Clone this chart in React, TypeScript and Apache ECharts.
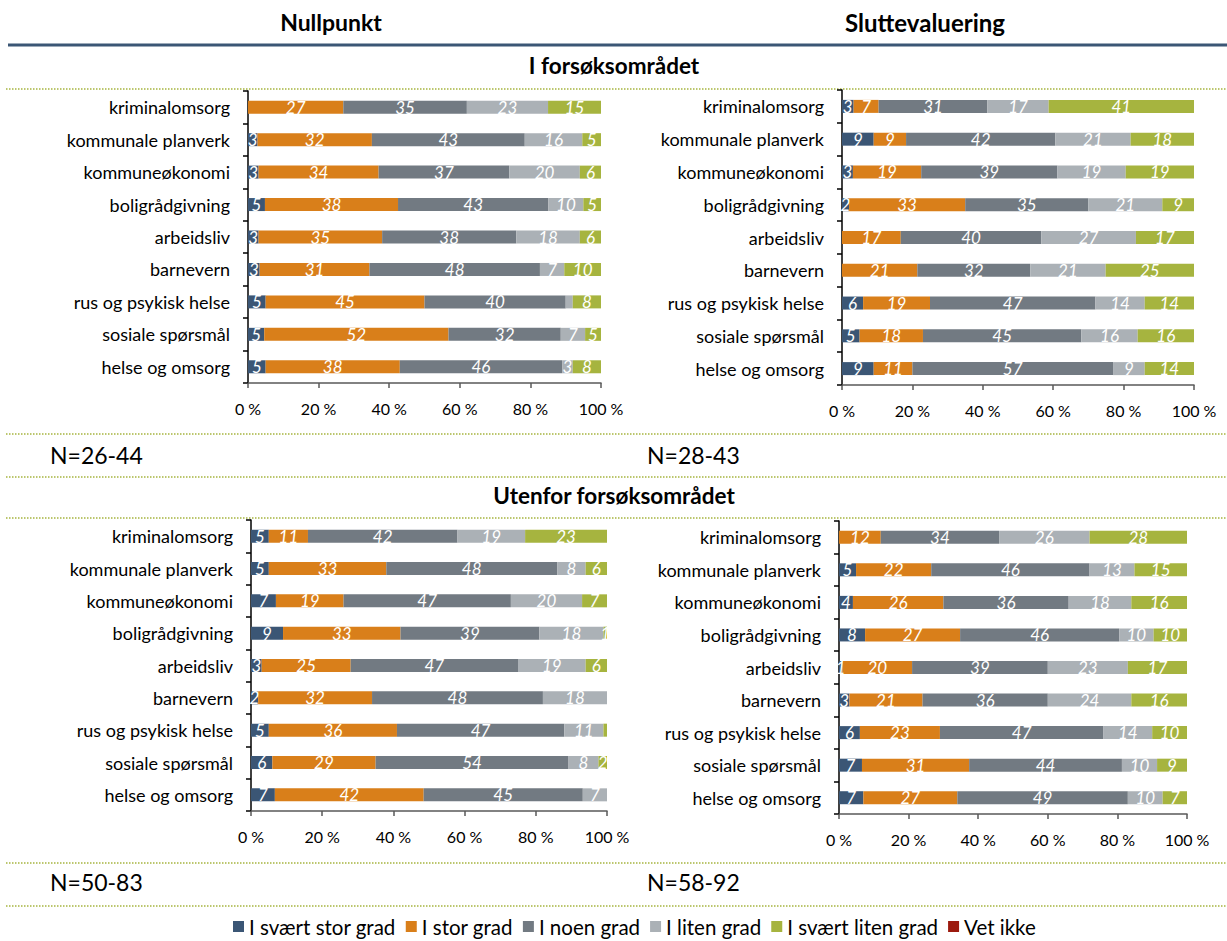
import React, { useEffect, useRef } from "react";
import * as echarts from "echarts";

// ---------- DATA ----------
const categories = [
  "kriminalomsorg",
  "kommunale planverk",
  "kommuneøkonomi",
  "boligrådgivning",
  "arbeidsliv",
  "barnevern",
  "rus og psykisk helse",
  "sosiale spørsmål",
  "helse og omsorg",
];

const seriesNames = [
  "I svært stor grad",
  "I stor grad",
  "I noen grad",
  "I liten grad",
  "I svært liten grad",
  "Vet ikke",
];

const xTickValues = [0, 20, 40, 60, 80, 100];

// Nullpunkt – I forsøksområdet (shares in %, labels shown rounded)
const tlSvaertStor = [0, 2.7, 3, 4.8, 3, 3.3, 5, 4.6, 5];
const tlStor = [27, 32.4, 34, 37.7, 35, 31.1, 45, 52.2, 38];
const tlNoen = [35, 43.3, 37, 42.6, 38, 48.3, 40, 31.8, 46];
const tlLiten = [23, 16.3, 20, 9.9, 18, 6.9, 2, 6.9, 3];
const tlSvaertLiten = [15, 5.3, 6, 5, 6, 10.4, 8, 4.5, 8];
const tlVetIkke = [0, 0, 0, 0, 0, 0, 0, 0, 0];

// Sluttevaluering – I forsøksområdet
const trSvaertStor = [3.3, 9, 3.1, 2, 0, 0, 6, 5, 9];
const trStor = [7.1, 9.2, 19.4, 33, 16.7, 21.4, 19, 18, 11];
const trNoen = [30.9, 42.4, 38.7, 35, 39.9, 32.1, 47, 45, 57];
const trLiten = [17.4, 21.4, 19.4, 21, 26.9, 21.4, 14, 16, 9];
const trSvaertLiten = [41.3, 18, 19.4, 9, 16.5, 25.1, 14, 16, 14];
const trVetIkke = [0, 0, 0, 0, 0, 0, 0, 0, 0];

// Nullpunkt – Utenfor forsøksområdet
const blSvaertStor = [5, 5, 7, 9, 3, 2, 5, 6, 6.7];
const blStor = [11, 33, 19, 33, 25, 32, 36, 29, 41.8];
const blNoen = [42, 48, 47, 39, 47, 48, 47, 54.2, 44.7];
const blLiten = [19, 8, 20, 18, 19, 18, 11, 8.4, 6.8];
const blSvaertLiten = [23, 6, 7, 1, 6, 0, 1, 2.4, 0];
const blVetIkke = [0, 0, 0, 0, 0, 0, 0, 0, 0];

// Sluttevaluering – Utenfor forsøksområdet
const brSvaertStor = [0, 4.9, 4, 7.5, 1, 3, 6, 6.6, 7];
const brStor = [12, 21.6, 26, 27.3, 20, 21, 23, 30.8, 27];
const brNoen = [34, 45.5, 36, 45.7, 39, 36, 47, 43.9, 49];
const brLiten = [26, 12.9, 18, 9.9, 23, 24, 14, 10.1, 10];
const brSvaertLiten = [28, 15.1, 16, 9.6, 17, 16, 10, 8.6, 7];
const brVetIkke = [0, 0, 0, 0, 0, 0, 0, 0, 0];

// labels that are not printed in the original [seriesIndex, categoryIndex]
const tlHiddenLabels = [[3, 6]];
const blHiddenLabels = [[4, 6]];

const columnTitles = ["Nullpunkt", "Sluttevaluering"];
const rowTitles = ["I forsøksområdet", "Utenfor forsøksområdet"];
const nTexts = ["N=26-44", "N=28-43", "N=50-83", "N=58-92"];

// ---------- STYLE ----------
const colors = ["#3B5675", "#D97F1A", "#727A82", "#ABB1B6", "#A6B43F", "#9C1A0E"];
const FONT = "Lato, 'Noto Sans', sans-serif";
const OLIVE = "#A6B43F";

const panelData = [
  { data: [tlSvaertStor, tlStor, tlNoen, tlLiten, tlSvaertLiten, tlVetIkke], hidden: tlHiddenLabels },
  { data: [trSvaertStor, trStor, trNoen, trLiten, trSvaertLiten, trVetIkke], hidden: [] as number[][] },
  { data: [blSvaertStor, blStor, blNoen, blLiten, blSvaertLiten, blVetIkke], hidden: blHiddenLabels },
  { data: [brSvaertStor, brStor, brNoen, brLiten, brSvaertLiten, brVetIkke], hidden: [] as number[][] },
];

const grids = [
  { left: 248, top: 91, width: 353, height: 292 },
  { left: 842, top: 90, width: 352, height: 295 },
  { left: 251, top: 520, width: 356, height: 291 },
  { left: 839, top: 521, width: 348, height: 293 },
];

function buildOption() {
  const xAxis: any[] = [];
  const yAxis: any[] = [];
  const series: any[] = [];
  grids.forEach((_, gi) => {
    xAxis.push({
      type: "value",
      gridIndex: gi,
      min: xTickValues[0],
      max: xTickValues[xTickValues.length - 1],
      interval: xTickValues[1] - xTickValues[0],
      axisLine: { show: true, lineStyle: { color: "#595959", width: 1.5 } },
      axisTick: { show: true, length: 5, lineStyle: { color: "#595959", width: 1.5 } },
      splitLine: { show: false },
      axisLabel: {
        formatter: "{value} %",
        fontSize: 16,
        fontFamily: FONT,
        color: "#000",
        margin: 17,
      },
    });
    yAxis.push({
      type: "category",
      gridIndex: gi,
      data: categories,
      inverse: true,
      axisLine: { show: true, lineStyle: { color: "#000", width: 1.5 } },
      axisTick: { show: true, length: 5, lineStyle: { color: "#000", width: 1.5 } },
      axisLabel: {
        fontSize: 18,
        fontFamily: FONT,
        color: "#000",
        margin: 18,
      },
    });
    const p = panelData[gi];
    p.data.forEach((arr, si) => {
      series.push({
        type: "bar",
        name: seriesNames[si],
        xAxisIndex: gi,
        yAxisIndex: gi,
        stack: "s" + gi,
        barWidth: 13,
        itemStyle: { color: colors[si] },
        label: {
          show: true,
          position: "inside",
          color: "#fff",
          fontStyle: "italic",
          fontSize: 17,
          fontFamily: FONT,
          formatter: (q: any) => (q.value === 0 ? "" : String(Math.round(q.value))),
        },
        data: arr.map((v, ci) =>
          p.hidden.some((h) => h[0] === si && h[1] === ci)
            ? { value: v, label: { show: false } }
            : v
        ),
      });
    });
  });

  const dotted = (y: number) => ({
    type: "line",
    shape: { x1: 6, y1: y, x2: 1227, y2: y },
    style: { stroke: OLIVE, lineWidth: 1.5, lineDash: [1.5, 1.5] },
    silent: true,
  });
  const txt = (text: string, x: number, y: number, size: number, bold: boolean, align = "center") => ({
    type: "text",
    x,
    y,
    style: {
      text,
      fill: "#000",
      font: `${bold ? "bold " : ""}${size}px ${FONT}`,
      fontSize: size,
      fontWeight: bold ? "bold" : "normal",
      fontFamily: FONT,
      align,
      verticalAlign: "middle",
      textAlign: align,
      textVerticalAlign: "middle",
    },
    silent: true,
  });

  const graphic = [
    txt(columnTitles[0], 331, 22, 23, true),
    txt(columnTitles[1], 925, 22, 24, true),
    {
      type: "line",
      shape: { x1: 8, y1: 45, x2: 1227, y2: 45 },
      style: { stroke: "#3B5675", lineWidth: 3 },
      silent: true,
    },
    txt(rowTitles[0], 614, 65, 22.5, true),
    dotted(89),
    dotted(434),
    txt(nTexts[0], 50, 455, 23, false, "left"),
    txt(nTexts[1], 647, 455, 23, false, "left"),
    dotted(477),
    txt(rowTitles[1], 614, 495, 22.5, true),
    dotted(518),
    dotted(863),
    txt(nTexts[2], 50, 882, 23, false, "left"),
    txt(nTexts[3], 647, 882, 23, false, "left"),
    dotted(906),
  ];

  return {
    animation: false,
    grid: grids,
    xAxis,
    yAxis,
    series,
    graphic,
    legend: {
      data: seriesNames,
      left: 233,
      top: 916,
      padding: 0,
      icon: "rect",
      itemWidth: 11,
      itemHeight: 11,
      itemGap: 10,
      selectedMode: false,
      textStyle: { fontSize: 20.5, fontFamily: FONT, color: "#000" },
    },
  };
}

export default function App() {
  const ref = useRef<HTMLDivElement>(null);
  useEffect(() => {
    document.body.style.margin = "0";
    if (!ref.current) return;
    const chart = echarts.init(ref.current, null, { renderer: "svg" });
    chart.setOption(buildOption() as any);
    return () => chart.dispose();
  }, []);
  return <div ref={ref} style={{ width: 1227, height: 941, background: "#fff" }} />;
}
